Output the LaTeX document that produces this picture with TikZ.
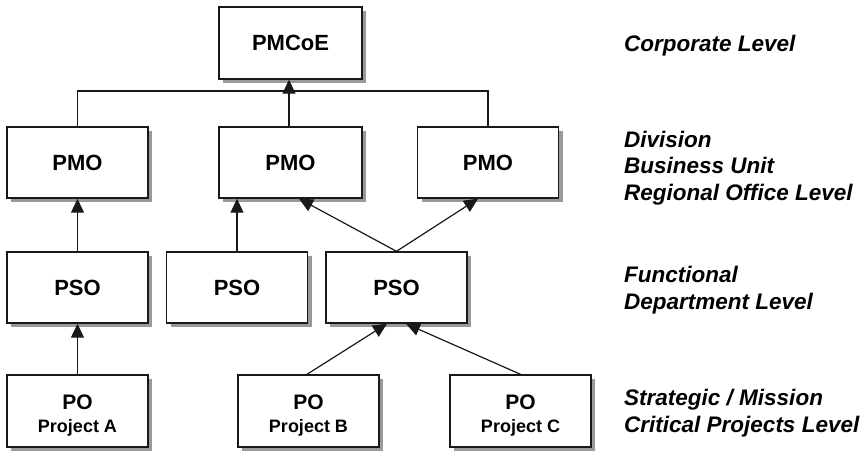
\documentclass[tikz,border=0pt]{standalone}
\usepackage{fontspec}
\setmainfont{Liberation Sans}
\usetikzlibrary{arrows.meta,shadows}
\begin{document}
\begin{tikzpicture}[x=1pt,y=-1pt,
  box/.style={draw=black!90, line width=1.4pt, fill=white, minimum width=141pt, minimum height=71pt,
    inner sep=0pt, align=center, font=\fontsize{22}{24}\selectfont\bfseries,
    drop shadow={shadow xshift=4pt, shadow yshift=-4pt, fill=black!40, opacity=1}},
  conn/.style={draw=black!90, line width=1.2pt},
  arr/.style={conn, -{Triangle[length=14pt,width=13pt]}},
  potext/.style={anchor=base, inner sep=0pt, font=\fontsize{21}{24}\selectfont\bfseries},
  subtext/.style={anchor=base, inner sep=0pt, font=\fontsize{18}{20}\selectfont\bfseries},
  lvl/.style={anchor=base west, align=left, inner sep=0pt, font=\fontsize{22.5}{26.5}\selectfont\bfseries\itshape}
]
\useasboundingbox (0,0) rectangle (866,451);
% boxes
\node[box, minimum width=143pt, minimum height=72pt] (pmcoe) at (290.5,43) {PMCoE};
\node[box] (pmo1) at (77.5,162.5) {PMO};
\node[box, minimum width=143pt] (pmo2) at (290.5,162.5) {PMO};
\node[box] (pmo3) at (488,162.5) {PMO};
\node[box] (pso1) at (77.5,287.5) {PSO};
\node[box] (pso2) at (237,287.5) {PSO};
\node[box] (pso3) at (396.5,287.5) {PSO};
\node[box, minimum height=72pt] (poa) at (77.5,411) {};
\node[box, minimum height=72pt] (pob) at (308.5,411) {};
\node[box, minimum height=72pt] (poc) at (520.5,411) {};
\node[potext] (poa1) at (77.5,409) {PO};
\node[subtext] (poa2) at (77.5,432.5) {Project A};
\node[potext] (pob1) at (308.5,409) {PO};
\node[subtext] (pob2) at (308.5,432.5) {Project B};
\node[potext] (poc1) at (520.5,409) {PO};
\node[subtext] (poc2) at (520.5,432.5) {Project C};
% bus
\coordinate (bus) at (290.5,91);
\draw[conn] (pmo1.north) |- (bus) -| (pmo3.north);
\draw[arr] ([xshift=-1.5pt]pmo2.north) -- ([xshift=-1.5pt]pmcoe.south);
% arrows
\draw[arr] (pso1.north) -- (pmo1.south);
\draw[arr] (poa.north) -- (pso1.south);
\draw[arr] (pso2.north) -- (pso2.north |- pmo2.south);
\draw[arr] (pso3.north) -- ([xshift=8.5pt]pmo2.south);
\draw[arr] (pso3.north) -- ([xshift=-10pt]pmo3.south);
\draw[arr] ([xshift=-1.5pt]pob.north) -- ([xshift=-9.5pt]pso3.south);
\draw[arr] (poc.north) -- ([xshift=9.5pt]pso3.south);
% level labels (base = baseline of the last line)
\node[lvl] (l1) at (624,51) {Corporate Level};
\node[lvl] (l2) at (624,200) {Division\\Business Unit\\Regional Office Level};
\node[lvl] (l3) at (624,309) {Functional\\Department Level};
\node[lvl] (l4) at (624,432) {Strategic / Mission\\Critical Projects Level};
\end{tikzpicture}
\end{document}
